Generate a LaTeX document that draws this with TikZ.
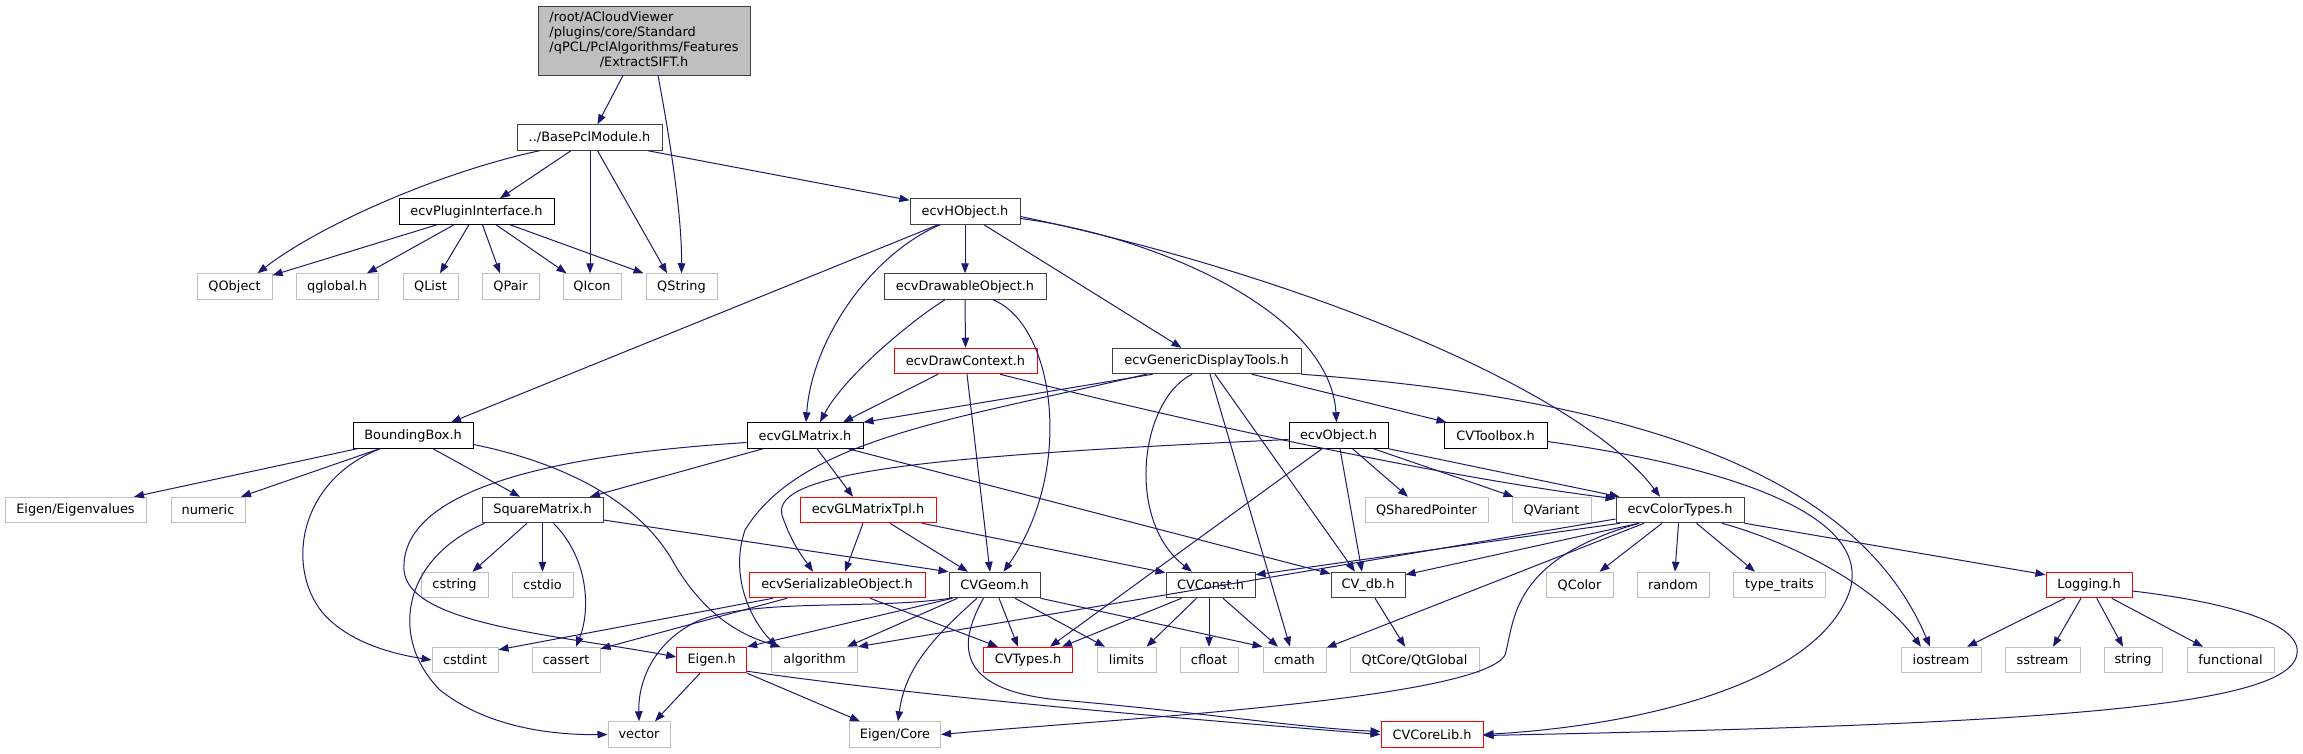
\documentclass[tikz,border=0pt]{standalone}
\usepackage{fontspec}
\setmainfont{DejaVu Sans}
\usetikzlibrary{arrows.meta}
\definecolor{edgec}{HTML}{191970}
\definecolor{extc}{HTML}{BFBFBF}
\definecolor{gtf}{HTML}{404040}
\definecolor{redc}{HTML}{FF0000}
\begin{document}
\begin{tikzpicture}[x=1pt,y=-1pt,
  font=\fontsize{12.9}{15}\selectfont,
  box/.style={rectangle, draw, fill=white, inner sep=0pt, minimum height=25.5pt, line width=1pt},
  ext/.style={box, draw=extc},
  doc/.style={box, draw=black},
  docg/.style={box, draw=gtf},
  trunc/.style={box, draw=redc},
  edge/.style={draw=edgec, line width=1pt, -{Triangle[length=10pt,width=7.5pt]}}]
\useasboundingbox (0,0) rectangle (2303,753);
% ---------------- nodes ----------------
\node[docg, fill=extc, minimum width=212pt, minimum height=69pt] (root) at (644,40.5)
  {\begin{tabular}{@{}l@{}}/root/ACloudViewer\\ /plugins/core/Standard\\ /qPCL/PclAlgorithms/Features\\ \multicolumn{1}{@{}c@{}}{/ExtractSIFT.h}\end{tabular}};
\node[docg, minimum width=145pt] (base) at (589.5,137.5) {../BasePclModule.h};
\node[doc, minimum width=155pt] (plugin) at (476.5,211.5) {ecvPluginInterface.h};
\node[docg, minimum width=110pt] (hobj) at (965,211.5) {ecvHObject.h};
\node[ext, minimum width=75pt] (qobject) at (234.5,286.5) {QObject};
\node[ext, minimum width=82pt] (qglobal) at (337,286.5) {qglobal.h};
\node[ext, minimum width=55pt] (qlist) at (430.5,286.5) {QList};
\node[ext, minimum width=57pt] (qpair) at (510.5,286.5) {QPair};
\node[ext, minimum width=58pt] (qicon) at (592,286.5) {QIcon};
\node[ext, minimum width=71pt] (qstring) at (681.5,286.5) {QString};
\node[docg, minimum width=162pt] (drawable) at (965,286.5) {ecvDrawableObject.h};
\node[trunc, minimum width=143pt] (drawctx) at (965.5,361) {ecvDrawContext.h};
\node[docg, minimum width=189pt] (gdt) at (1206.5,361) {ecvGenericDisplayTools.h};
\node[doc, minimum width=120pt] (bbox) at (413,435.5) {BoundingBox.h};
\node[doc, minimum width=116pt] (glm) at (805,435.5) {ecvGLMatrix.h};
\node[doc, minimum width=99pt] (eobj) at (1338.5,435.5) {ecvObject.h};
\node[doc, minimum width=103pt] (cvtb) at (1495.5,435.5) {CVToolbox.h};
\node[ext, minimum width=141pt] (eigval) at (75.5,510) {Eigen/Eigenvalues};
\node[ext, minimum width=74pt] (numeric) at (208,510) {numeric};
\node[docg, minimum width=121pt] (sqm) at (542.5,510) {SquareMatrix.h};
\node[trunc, minimum width=136pt] (glmtpl) at (868,510) {ecvGLMatrixTpl.h};
\node[ext, minimum width=123pt] (qsp) at (1426.5,510) {QSharedPointer};
\node[ext, minimum width=79pt] (qvar) at (1551.5,510) {QVariant};
\node[docg, minimum width=128pt] (ct) at (1680,510) {ecvColorTypes.h};
\node[ext, minimum width=67pt] (cstring) at (454.5,585) {cstring};
\node[ext, minimum width=61pt] (cstdio) at (542.5,585) {cstdio};
\node[trunc, minimum width=176pt] (serial) at (837,585) {ecvSerializableObject.h};
\node[docg, minimum width=91pt] (cvgeom) at (994.5,585) {CVGeom.h};
\node[docg, minimum width=89pt] (cvconst) at (1210.5,585) {CVConst.h};
\node[docg, minimum width=74pt] (cvdb) at (1368,585) {CV\_db.h};
\node[ext, minimum width=67pt] (qcolor) at (1579.5,585) {QColor};
\node[ext, minimum width=72pt] (random) at (1673,585) {random};
\node[ext, minimum width=92pt] (ttraits) at (1779.5,585) {type\_traits};
\node[trunc, minimum width=86pt] (logging) at (2089,585) {Logging.h};
\node[ext, minimum width=66pt] (cstdint) at (465,660) {cstdint};
\node[ext, minimum width=68pt] (cassert) at (566,660) {cassert};
\node[trunc, minimum width=70pt] (eigenh) at (711.7,660) {Eigen.h};
\node[ext, minimum width=86pt] (algorithm) at (814.5,660) {algorithm};
\node[trunc, minimum width=89pt] (cvtypes) at (1028,660) {CVTypes.h};
\node[ext, minimum width=59pt] (limits) at (1126.5,660) {limits};
\node[ext, minimum width=58pt] (cfloat) at (1209,660) {cfloat};
\node[ext, minimum width=63pt] (cmath) at (1294.5,660) {cmath};
\node[ext, minimum width=129pt] (qtglobal) at (1414.5,660) {QtCore/QtGlobal};
\node[ext, minimum width=80pt] (iostream) at (1941,660) {iostream};
\node[ext, minimum width=75pt] (sstream) at (2042.5,660) {sstream};
\node[ext, minimum width=58pt] (string) at (2133,660) {string};
\node[ext, minimum width=87pt] (functional) at (2230.5,660) {functional};
\node[ext, minimum width=62pt] (vector) at (639,734.5) {vector};
\node[ext, minimum width=91pt] (eigencore) at (895,734.5) {Eigen/Core};
\node[trunc, minimum width=102pt] (corelib) at (1432,734.5) {CVCoreLib.h};
% ---------------- edges ----------------
\draw[edge] ([xshift=-21pt]root.south) -- ([xshift=8pt]base.north);
\draw[edge] ([xshift=14pt]root.south) .. controls (672,150) and (682,220) .. (qstring.north);
\draw[edge] ([xshift=-50pt]base.south) .. controls (440,172) and (320,225) .. ([xshift=23pt]qobject.north);
\draw[edge] ([xshift=-18.5pt]base.south) -- ([xshift=23.5pt]plugin.north);
\draw[edge] ([xshift=0.5pt]base.south) -- ([xshift=-2pt]qicon.north);
\draw[edge] ([xshift=8pt]base.south) -- ([xshift=-14.5pt]qstring.north);
\draw[edge] ([xshift=58.5pt]base.south) -- ([yshift=-2pt]hobj.north west);
\draw[edge] ([xshift=-39.5pt]plugin.south) -- ([yshift=-2pt]qobject.north east);
\draw[edge] ([xshift=-22.5pt]plugin.south) -- ([xshift=30pt]qglobal.north);
\draw[edge] ([xshift=-7.5pt]plugin.south) -- ([xshift=9.5pt]qlist.north);
\draw[edge] ([xshift=6pt]plugin.south) -- ([xshift=-10.5pt]qpair.north);
\draw[edge] ([xshift=19.5pt]plugin.south) -- ([xshift=4pt]qicon.north west);
\draw[edge] ([xshift=33.5pt]plugin.south) -- ([xshift=-2pt]qstring.north west);
\draw[edge] ([xshift=-27pt]hobj.south) -- ([xshift=38pt]bbox.north);
\draw[edge] ([xshift=-25pt]hobj.south) .. controls (870,255) and (812,340) .. ([xshift=1pt]glm.north);
\draw[edge] (hobj.south) -- (drawable.north);
\draw[edge] ([xshift=19pt]hobj.south) -- ([xshift=-25pt]gdt.north);
\draw[edge] ([yshift=-7pt]hobj.east) .. controls (1150,235) and (1330,310) .. ([xshift=-2pt]eobj.north);
\draw[edge] ([yshift=-5pt]hobj.east) .. controls (1300,275) and (1580,390) .. ([xshift=-20pt]ct.north);
\draw[edge] (drawable.south) -- (drawctx.north);
\draw[edge] ([xshift=-20pt]drawable.south) .. controls (915,318) and (845,375) .. ([xshift=15pt]glm.north);
\draw[edge] ([xshift=28pt]drawable.south) .. controls (1055,325) and (1075,470) .. ([xshift=9pt]cvgeom.north);
\draw[edge] ([xshift=-27.5pt]drawctx.south) -- ([xshift=38pt]glm.north);
\draw[edge] ([xshift=1.5pt]drawctx.south) -- ([xshift=-4.5pt]cvgeom.north);
\draw[edge] ([xshift=34.5pt]drawctx.south) .. controls (1200,425) and (1450,478) .. ([yshift=-2pt]ct.north west);
\draw[edge] ([xshift=-54pt]gdt.south) -- (glm.north east);
\draw[edge] ([xshift=-60pt]gdt.south) .. controls (950,420) and (800,440) .. (745,530) .. controls (728,580) and (755,625) .. ([xshift=-37pt]algorithm.north);
\draw[edge] ([xshift=-14.5pt]gdt.south) .. controls (1140,400) and (1125,520) .. ([xshift=-18.5pt]cvconst.north);
\draw[edge] ([xshift=3.5pt]gdt.south) -- ([xshift=-4.5pt]cmath.north);
\draw[edge] ([xshift=8.5pt]gdt.south) -- ([xshift=-13pt]cvdb.north);
\draw[edge] ([xshift=45.5pt]gdt.south) -- ([xshift=3pt]cvtb.north west);
\draw[edge] (gdt.south east) .. controls (1650,400) and (1860,480) .. ([xshift=-11pt]iostream.north);
\draw[edge] ([yshift=-4pt]eobj.west) .. controls (950,455) and (770,470) .. (782,515) .. controls (792,545) and (805,560) .. ([xshift=-24pt]serial.north);
\draw[edge] ([xshift=-16.5pt]eobj.south) -- ([xshift=22pt]cvtypes.north);
\draw[edge] ([xshift=1.5pt]eobj.south) -- ([xshift=-6pt]cvdb.north);
\draw[edge] ([xshift=14pt]eobj.south) -- ([xshift=-18.5pt]qsp.north);
\draw[edge] ([xshift=35pt]eobj.south) -- ([xshift=2pt]qvar.north west);
\draw[edge] (eobj.south east) -- ([xshift=4pt]ct.north west);
\draw[edge] ([xshift=-42pt]glm.south) -- ([xshift=47.5pt]sqm.north);
\draw[edge] ([xshift=12pt]glm.south) -- ([xshift=-15pt]glmtpl.north);
\draw[edge] ([xshift=43pt]glm.south) -- ([yshift=-2pt]cvdb.north west);
\draw[edge] ([yshift=-7pt]glm.west) .. controls (550,455) and (400,490) .. (404,570) .. controls (408,625) and (560,635) .. ([yshift=3pt]eigenh.west);
\draw[edge] ([xshift=-56pt]bbox.south) -- ([xshift=58.5pt]eigval.north);
\draw[edge] ([xshift=-33.5pt]bbox.south) -- ([xshift=33pt]numeric.north);
\draw[edge] ([xshift=-33pt]bbox.south) .. controls (300,480) and (285,565) .. (322,612) .. controls (350,645) and (400,655) .. (cstdint.west);
\draw[edge] ([xshift=20pt]bbox.south) -- ([xshift=-22.5pt]sqm.north);
\draw[edge] ([yshift=-9pt]bbox.east) .. controls (560,462) and (640,500) .. (675,565) .. controls (705,615) and (740,635) .. ([xshift=-34pt]algorithm.north);
\draw[edge] ([xshift=-15.5pt]sqm.south) -- ([xshift=18pt]cstring.north);
\draw[edge] (sqm.south) -- (cstdio.north);
\draw[edge] ([xshift=11pt]sqm.south) .. controls (590,560) and (590,612) .. ([xshift=10pt]cassert.north);
\draw[edge] ([xshift=-58pt]sqm.south) .. controls (400,560) and (390,640) .. (440,690) .. controls (490,730) and (560,735) .. (vector.west);
\draw[edge] ([yshift=-10pt]sqm.east) -- (cvgeom.north west);
\draw[edge] ([xshift=-5pt]glmtpl.south) -- ([xshift=8pt]serial.north);
\draw[edge] ([xshift=22pt]glmtpl.south) -- ([xshift=-26.5pt]cvgeom.north);
\draw[edge] ([xshift=54pt]glmtpl.south) -- ([yshift=-1pt]cvconst.north west);
\draw[edge] ([xshift=-64pt]serial.south) -- ([yshift=-3pt]cstdint.north east);
\draw[edge] ([xshift=-50pt]serial.south) -- ([yshift=-2pt]cassert.north east);
\draw[edge] ([xshift=33pt]serial.south) -- ([xshift=-30pt]cvtypes.north);
\draw[edge] ([xshift=-44pt]cvgeom.south) .. controls (870,610) and (760,598) .. (700,620) .. controls (655,640) and (638,680) .. (vector.north);
\draw[edge] ([xshift=-42pt]cvgeom.south) -- (eigenh.north east);
\draw[edge] ([xshift=-37pt]cvgeom.south) -- ([xshift=32.5pt]algorithm.north);
\draw[edge] ([xshift=4.5pt]cvgeom.south) -- ([xshift=-10pt]cvtypes.north);
\draw[edge] ([xshift=20.5pt]cvgeom.south) -- ([xshift=-21.5pt]limits.north);
\draw[edge] (cvgeom.south east) -- (cmath.north west);
\draw[edge] ([xshift=-17.5pt]cvgeom.south) .. controls (930,640) and (905,670) .. ([xshift=3pt]eigencore.north);
\draw[edge] ([xshift=-11pt]cvgeom.south) .. controls (960,640) and (950,690) .. (1060,700) .. controls (1200,712) and (1300,728) .. ([yshift=3pt]corelib.west);
\draw[edge] ([xshift=-29pt]cvconst.south) -- ([xshift=34pt]cvtypes.north);
\draw[edge] ([xshift=-14pt]cvconst.south) -- ([xshift=20pt]limits.north);
\draw[edge] ([xshift=-1.5pt]cvconst.south) -- (cfloat.north);
\draw[edge] ([xshift=12.5pt]cvconst.south) -- ([xshift=-16.5pt]cmath.north);
\draw[edge] ([xshift=7pt]cvdb.south) -- ([xshift=-9.5pt]qtglobal.north);
\draw[edge] ([yshift=-9pt]ct.west) -- (algorithm.north east);
\draw[edge] ([xshift=-60pt]ct.south) -- ([yshift=-3pt]cvconst.north east);
\draw[edge] ([xshift=-41pt]ct.south) -- ([yshift=-3pt]cvdb.north east);
\draw[edge] ([xshift=-36pt]ct.south) -- ([yshift=-1pt]cmath.north east);
\draw[edge] ([xshift=-41pt]ct.south) .. controls (1510,560) and (1515,620) .. (1505,655) .. controls (1480,700) and (1100,720) .. (eigencore.east);
\draw[edge] ([xshift=-18pt]ct.south) -- ([xshift=20pt]qcolor.north);
\draw[edge] ([xshift=-1.5pt]ct.south) -- ([xshift=2pt]random.north);
\draw[edge] ([xshift=16.5pt]ct.south) -- ([xshift=-24.5pt]ttraits.north);
\draw[edge] ([xshift=42pt]ct.south) .. controls (1800,545) and (1880,590) .. ([xshift=-20pt]iostream.north);
\draw[edge] (ct.south east) -- ([yshift=-3pt]logging.north west);
\draw[edge] ([yshift=-6pt]cvtb.east) .. controls (1750,470) and (1870,520) .. (1850,590) .. controls (1820,680) and (1650,725) .. (corelib.east);
\draw[edge] ([xshift=-24pt]logging.south) -- ([xshift=26pt]iostream.north);
\draw[edge] ([xshift=-8pt]logging.south) -- ([xshift=10.5pt]sstream.north);
\draw[edge] ([xshift=7.7pt]logging.south) -- ([xshift=-10pt]string.north);
\draw[edge] ([xshift=22.7pt]logging.south) -- ([xshift=-27.5pt]functional.north);
\draw[edge] ([yshift=-6pt]logging.east) .. controls (2250,605) and (2310,630) .. (2295,660) .. controls (2270,710) and (2000,725) .. ([yshift=-1pt]corelib.east);
\draw[edge] ([xshift=-11.7pt]eigenh.south) -- ([xshift=16pt]vector.north);
\draw[edge] (eigenh.south east) -- ([xshift=-35pt]eigencore.north);
\draw[edge] ([yshift=2pt]eigenh.south east) .. controls (950,700) and (1200,720) .. (corelib.west);
\end{tikzpicture}
\end{document}
